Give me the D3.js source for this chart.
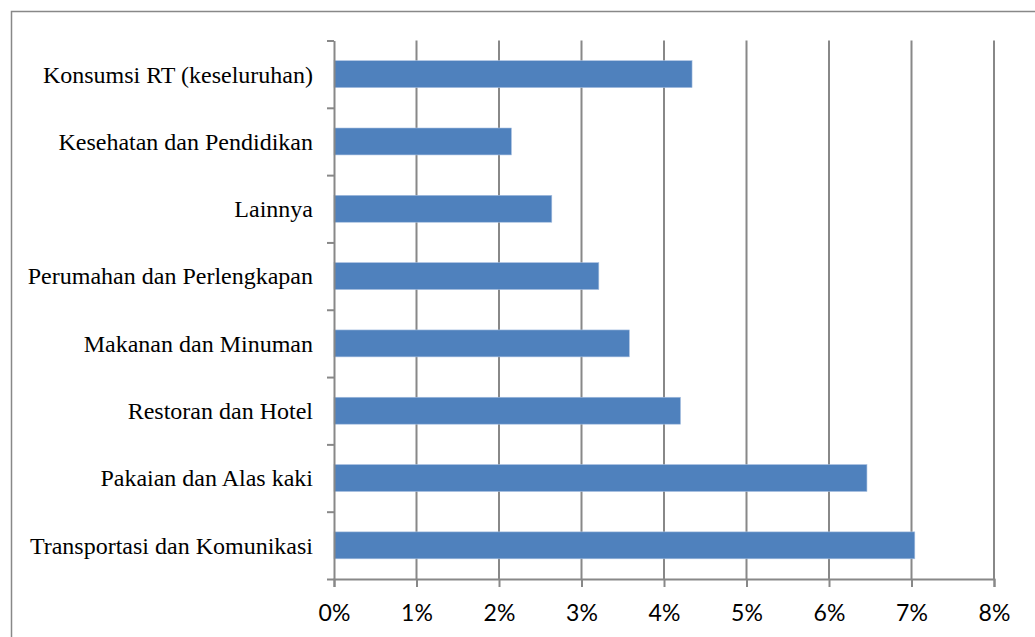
<!DOCTYPE html>
<html><head><meta charset="utf-8">
<script src="https://cdn.jsdelivr.net/npm/d3@7"></script>
<style>html,body{margin:0;padding:0;background:#fff;}svg{display:block;}</style>
</head><body>
<script>
const categories = [
  "Konsumsi RT (keseluruhan)",
  "Kesehatan dan Pendidikan",
  "Lainnya",
  "Perumahan dan Perlengkapan",
  "Makanan dan Minuman",
  "Restoran dan Hotel",
  "Pakaian dan Alas kaki",
  "Transportasi dan Komunikasi"
];
const values = [0.0434, 0.0215, 0.0264, 0.0321, 0.0358, 0.0420, 0.0646, 0.0704];
const xTicks = [0, 0.01, 0.02, 0.03, 0.04, 0.05, 0.06, 0.07, 0.08];

const W = 1035, H = 637;
const svg = d3.select("body").append("svg").attr("width", W).attr("height", H);

// outer chart border
svg.append("rect").attr("x", 11.5).attr("y", 11.5).attr("width", W + 20).attr("height", H + 20)
  .attr("fill", "none").attr("stroke", "#888").attr("stroke-width", 1.5);

const x = d3.scaleLinear().domain([0, 0.08]).range([334, 994]);
const y = d3.scaleBand().domain(categories).range([40.5, 579]).paddingInner(0.6).paddingOuter(0.3);
const yIdx = d3.scaleLinear().domain([0, categories.length]).range([40.5, 579]);

const grey = "#888";

// gridlines
svg.append("g").selectAll("line").data(xTicks.slice(1)).join("line")
  .attr("x1", d => x(d)).attr("x2", d => x(d)).attr("y1", 40.5).attr("y2", 579)
  .attr("stroke", grey).attr("stroke-width", 2);

// bars
svg.append("g").selectAll("rect").data(categories).join("rect")
  .attr("x", x(0)).attr("y", d => y(d)).attr("height", y.bandwidth())
  .attr("width", (d, i) => x(values[i]) - x(0))
  .attr("fill", "#4F81BD").attr("stroke", "#a7bfdf").attr("stroke-width", 0.6);

// bottom axis
const xAxis = svg.append("g").attr("transform", "translate(0,579)")
  .call(d3.axisBottom(x).tickValues(xTicks).tickFormat(d3.format(".0%")).tickSize(8).tickPadding(18));
xAxis.select(".domain").attr("stroke", grey).attr("stroke-width", 2);
xAxis.selectAll(".tick line").attr("stroke", grey).attr("stroke-width", 2);
xAxis.selectAll(".tick text").attr("font-family", "Lato, 'Open Sans', sans-serif")
  .attr("font-size", 23).attr("fill", "#000");

// left axis with ticks at category boundaries
const yAxis = svg.append("g").attr("transform", "translate(334,0)")
  .call(d3.axisLeft(yIdx).tickValues(d3.range(categories.length + 1)).tickFormat("").tickSize(7).tickSizeOuter(0));
yAxis.select(".domain").attr("stroke", grey).attr("stroke-width", 2);
yAxis.selectAll(".tick line").attr("stroke", grey).attr("stroke-width", 2);

// category labels
svg.append("g").selectAll("text").data(categories).join("text")
  .attr("x", 313).attr("y", d => y(d) + y.bandwidth() / 2)
  .attr("dy", "0.35em").attr("text-anchor", "end")
  .attr("font-family", "'Liberation Serif', 'Times New Roman', serif")
  .attr("font-size", 24).attr("fill", "#000")
  .text(d => d);
</script>
</body></html>
